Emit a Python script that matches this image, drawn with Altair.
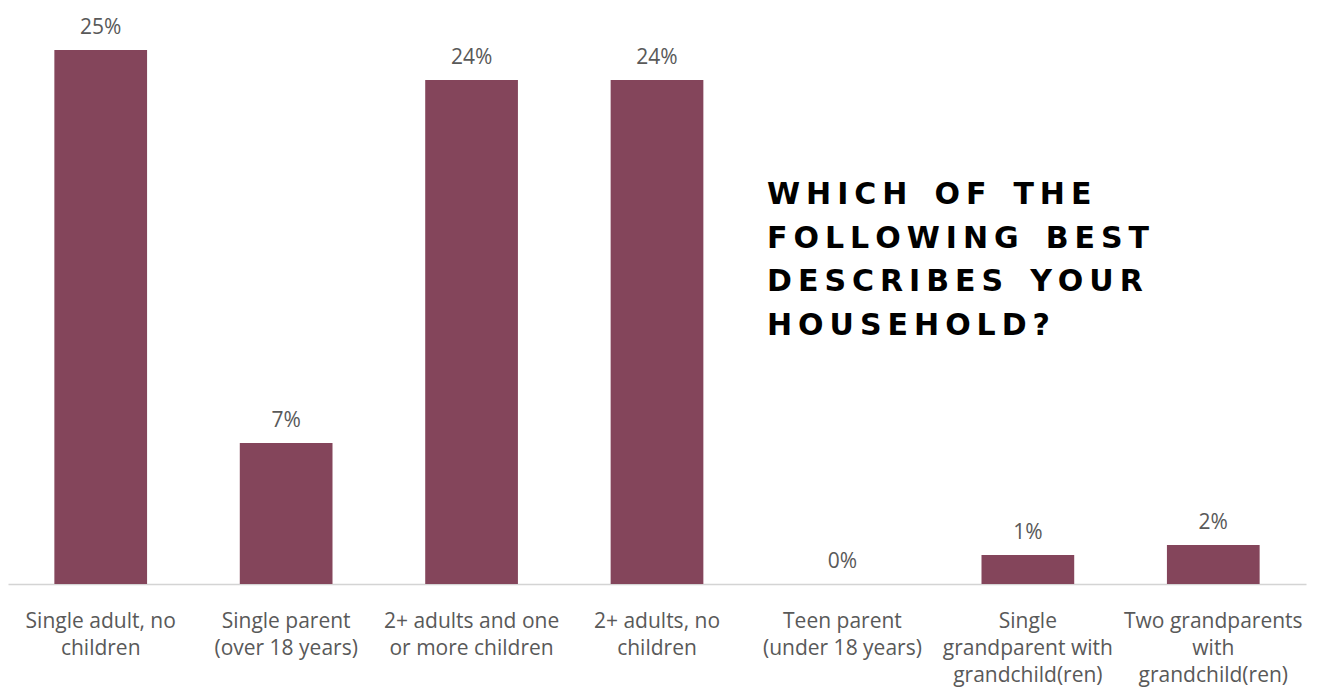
import altair as alt
import pandas as pd

categories = [
    "Single adult, no\nchildren",
    "Single parent\n(over 18 years)",
    "2+ adults and one\nor more children",
    "2+ adults, no\nchildren",
    "Teen parent\n(under 18 years)",
    "Single\ngrandparent with\ngrandchild(ren)",
    "Two grandparents\nwith\ngrandchild(ren)",
]
values = [25.0, 6.6, 23.6, 23.6, 0.0, 1.36, 1.83]
value_labels = ["25%", "7%", "24%", "24%", "0%", "1%", "2%"]

title_lines = ["WHICH OF THE", "FOLLOWING BEST", "DESCRIBES YOUR", "HOUSEHOLD?"]

def spaced(s):
    return "\u2009".join(list(s)).replace(" ", "\u2002")

title_text = "\n".join(spaced(t) for t in title_lines)

df = pd.DataFrame({
    "cat": categories,
    "value": values,
    "label": value_labels,
})

W, H = 1298, 584
BAR = "#84455b"
GRAY = "#595959"

x = alt.X("cat:N", sort=categories,
          scale=alt.Scale(paddingInner=0.5, paddingOuter=0.25),
          axis=alt.Axis(labels=False, ticks=False, title=None,
                        domainColor="#d4d4d4", domainWidth=1.5))
y = alt.Y("value:Q", scale=alt.Scale(domain=[0, 27.34], nice=False), axis=None)

bars = alt.Chart(df).mark_bar(color=BAR).encode(x=x, y=y)

labels = alt.Chart(df).mark_text(
    font="Open Sans", fontSize=21, color=GRAY, baseline="middle", dy=-22
).encode(x=alt.X("cat:N", sort=categories), y="value:Q", text="label:N")

cat_labels = alt.Chart(df).mark_text(
    font="Open Sans", fontSize=21, color=GRAY, baseline="alphabetic",
    lineBreak="\n", lineHeight=27, align="center"
).encode(x=alt.X("cat:N", sort=categories), y=alt.value(H + 44), text="cat:N")

title = alt.Chart(pd.DataFrame({"t": [title_text]})).mark_text(
    font="DejaVu Sans", fontWeight="bold", fontSize=30, color="#000000",
    align="left", baseline="alphabetic", lineBreak="\n", lineHeight=43.5
).encode(x=alt.value(759), y=alt.value(204), text="t:N")

chart = alt.layer(bars, labels, cat_labels, title).properties(
    width=W, height=H,
    autosize=alt.AutoSizeParams(type="none"),
    padding={"left": 8, "top": 0, "right": 13, "bottom": 110},
    background="white",
).configure_view(stroke=None)

chart.save("out.html", embed_options={"renderer": "svg", "actions": False})
